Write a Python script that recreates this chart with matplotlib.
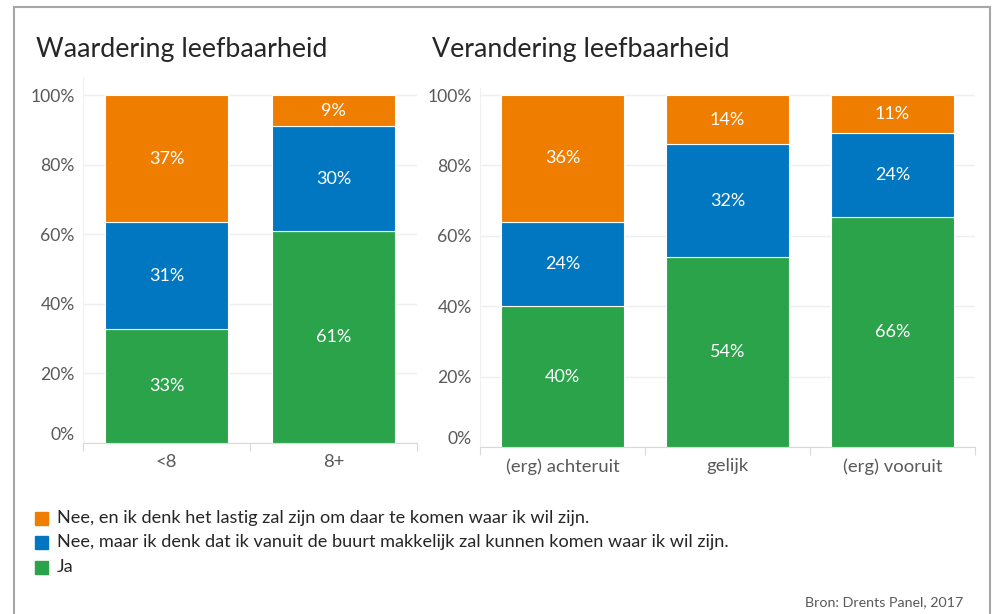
import matplotlib
matplotlib.use("Agg")
import matplotlib.pyplot as plt
from matplotlib.patches import Rectangle
from matplotlib.transforms import ScaledTranslation
import numpy as np

plt.rcParams['font.family'] = ['Lato', 'DejaVu Sans']

# ---- data ----
left_title = "Waardering leefbaarheid"
right_title = "Verandering leefbaarheid"
left_cats = ["<8", "8+"]
right_cats = ["(erg) achteruit", "gelijk", "(erg) vooruit"]

series_names = [
    "Nee, en ik denk het lastig zal zijn om daar te komen waar ik wil zijn.",
    "Nee, maar ik denk dat ik vanuit de buurt makkelijk zal kunnen komen waar ik wil zijn.",
    "Ja",
]
# stacked bottom -> top: Ja, Nee-makkelijk, Nee-lastig
left_ja = [33, 61]
left_makkelijk = [31, 30]
left_lastig = [37, 9]

right_ja = [40, 54, 66]
right_makkelijk = [24, 32, 24]
right_lastig = [36, 14, 11]

yticks = [0, 20, 40, 60, 80, 100]
source = "Bron: Drents Panel, 2017"

C_ORANGE = "#EF7D00"
C_BLUE = "#0077C0"
C_GREEN = "#2BA34A"
GRAY_TXT = "#595959"

W, H = 993, 614
fig = plt.figure(figsize=(W / 100, H / 100), dpi=100)


def px_axes(x0, x1, ytop, ybot):
    return fig.add_axes([x0 / W, 1 - ybot / H, (x1 - x0) / W, (ybot - ytop) / H])


def draw(ax, cats, ja, mk, la, ytop_val):
    x = np.arange(len(cats))
    ja = np.array(ja, float); mk = np.array(mk, float); la = np.array(la, float)
    tot = ja + mk + la
    segs = [(ja, C_GREEN), (mk, C_BLUE), (la, C_ORANGE)]
    bottom = np.zeros(len(cats))
    for vals, col in segs:
        h = vals / tot * 100
        ax.bar(x, h, bottom=bottom, width=0.74, color=col, edgecolor="white",
               linewidth=0.8, zorder=3)
        for xi, b, hi, v in zip(x, bottom, h, vals):
            ax.text(xi, b + hi / 2, f"{int(v)}%", ha="center", va="center",
                    color="white", fontsize=13, zorder=4)
        bottom = bottom + h
    ax.set_xlim(-0.5, len(cats) - 0.5)
    ax.set_ylim(0, ytop_val)
    ax.set_yticks(yticks)
    ax.set_yticklabels([f"{t}%" for t in yticks])
    ax.set_xticks(x)
    ax.set_xticklabels(cats)
    ax.set_xticks(np.arange(len(cats) + 1) - 0.5, minor=True)
    ax.tick_params(axis="x", which="major", length=0, pad=8, labelsize=13.3, labelcolor=GRAY_TXT)
    ax.tick_params(axis="x", which="minor", length=6, color="#D9D9D9", width=0.8)
    ax.tick_params(axis="y", length=0, pad=6, labelsize=12.6, labelcolor=GRAY_TXT)
    ax.grid(axis="y", color="#EFEFEF", linewidth=1, zorder=0)
    for s in ["top", "right"]:
        ax.spines[s].set_visible(False)
    ax.spines["left"].set_color("#F0F0F0")
    ax.spines["bottom"].set_color("#D9D9D9")
    ax.spines["bottom"].set_linewidth(0.8)
    # Excel-style: the 0% label sits a little above the baseline
    lab0 = ax.yaxis.get_major_ticks()[0].label1
    lab0.set_transform(lab0.get_transform() + ScaledTranslation(0, 10 / 100, fig.dpi_scale_trans))


axL = px_axes(83, 417, 77, 443)
draw(axL, left_cats, left_ja, left_makkelijk, left_lastig, (443 - 77) / 348 * 100)
axR = px_axes(480, 975, 88, 447)
draw(axR, right_cats, right_ja, right_makkelijk, right_lastig, (447 - 88) / 352 * 100)

# titles
fig.text(36 / W, 1 - 49 / H, left_title, fontsize=19.3, color="#262626", va="center", ha="left")
fig.text(432 / W, 1 - 49 / H, right_title, fontsize=19.3, color="#262626", va="center", ha="left")

# legend
cols = [C_ORANGE, C_BLUE, C_GREEN]
for i, (name, col) in enumerate(zip(series_names, cols)):
    yc = 518 + i * 24.5
    fig.patches.append(Rectangle((35 / W, 1 - (yc + 6.5) / H), 13 / W, 13 / H,
                                 transform=fig.transFigure, color=col, figure=fig))
    fig.text(57 / W, 1 - yc / H, name, fontsize=13.1, color="#262626", va="center", ha="left")

fig.text(963 / W, 1 - 602 / H, source, fontsize=10.3, color=GRAY_TXT, va="center", ha="right")

# outer border
fig.patches.append(Rectangle((14 / W, -0.05), (990 - 14) / W, 1.05 - 7 / H,
                             transform=fig.transFigure, fill=False,
                             edgecolor="#A6A6A6", linewidth=1.5, figure=fig))

fig.savefig("out.png", dpi=100)
